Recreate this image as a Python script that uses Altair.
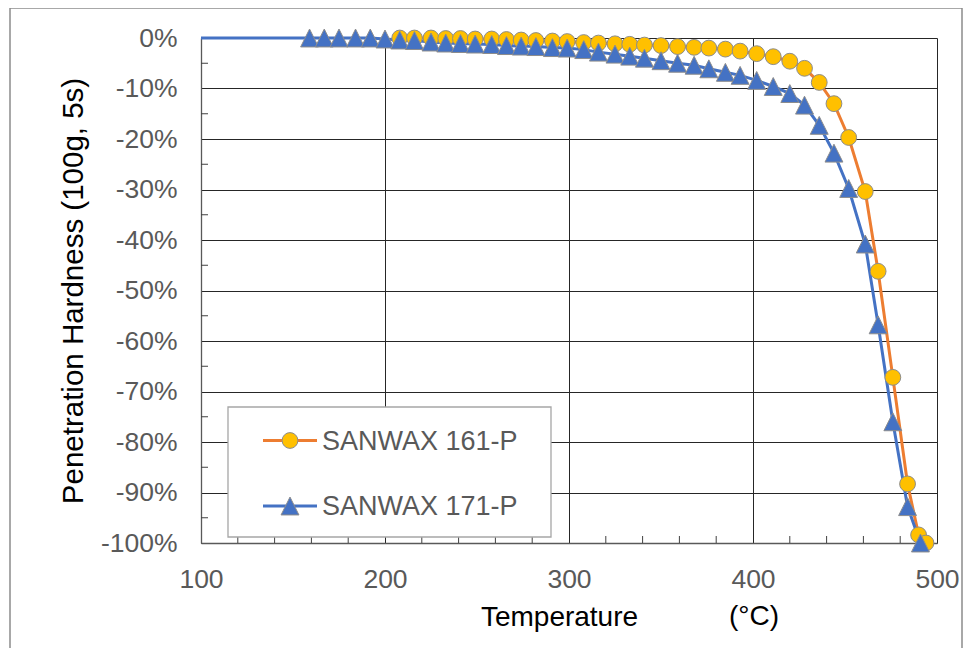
import altair as alt
import pandas as pd

# ---- data ----
series_names = ["SANWAX 161-P", "SANWAX 171-P"]

temps_161 = [208, 216, 225, 233, 241, 249, 258, 266, 274, 282, 291, 299, 308, 316,
             325, 333, 341, 350, 359, 368, 376, 385, 393, 402, 411, 420, 428, 436,
             444, 452, 461, 468, 476, 484, 490, 494]
hard_161 = [0, 0, 0, -0.1, -0.1, -0.2, -0.2, -0.3, -0.4, -0.5, -0.6, -0.7, -0.9, -1.0,
            -1.15, -1.25, -1.4, -1.5, -1.7, -1.85, -2.0, -2.2, -2.6, -3.1, -3.7, -4.6,
            -6.0, -8.8, -13.0, -19.7, -30.4, -46.2, -67.2, -88.3, -98.4, -100.0]

temps_171 = [100, 159, 167, 175, 184, 192, 200, 208, 216, 225, 233, 241, 249, 258,
             266, 274, 282, 291, 299, 308, 316, 325, 333, 341, 350, 359, 368, 376,
             385, 393, 402, 411, 420, 428, 436, 444, 452, 461, 468, 476, 484, 491]
hard_171 = [0, 0, 0, 0, 0, 0, -0.2, -0.4, -0.5, -0.8, -1.0, -1.1, -1.2, -1.3,
            -1.5, -1.6, -1.7, -1.9, -2.0, -2.3, -2.8, -3.2, -3.6, -4.0, -4.5, -5.0,
            -5.4, -6.1, -6.8, -7.4, -8.4, -9.6, -11.0, -13.3, -17.3, -22.8, -29.8,
            -40.8, -56.8, -76.0, -92.8, -100.0]

x_ticks = [100, 200, 300, 400, 500]
y_ticks = [-100, -90, -80, -70, -60, -50, -40, -30, -20, -10, 0]
x_minor = [120, 140, 160, 180, 220, 240, 260, 280, 320, 340, 360, 380, 420, 440, 460, 480]
y_minor = [-95, -85, -75, -65, -55, -45, -35, -25, -15, -5]

# ---- styling ----
FONT = "Liberation Sans"
ORANGE = "#ED7D31"
YELLOW = "#FFC000"
BLUE = "#4472C4"
MARKER_STROKE = "#8C8C8C"
W, H = 736, 505

df161 = pd.DataFrame({"T": temps_161, "H": hard_161})
df171 = pd.DataFrame({"T": temps_171, "H": hard_171})
dummy = pd.DataFrame({"d": [0]})

x_enc = alt.X(
    "T:Q",
    scale=alt.Scale(domain=[100, 500], nice=False, zero=False),
    axis=alt.Axis(
        values=x_ticks, grid=True, ticks=False, labelFlush=False, labelOverlap=False,
        labelPadding=23, title="Temperature", titleX=358, titleY=74,
        titleAlign="center", titleBaseline="middle", titleFontSize=28,
    ),
)
y_enc = alt.Y(
    "H:Q",
    scale=alt.Scale(domain=[-100, 0], nice=False, zero=False),
    axis=alt.Axis(
        values=y_ticks, grid=True, ticks=False, labelOverlap=False,
        labelExpr="datum.value + '%'", labelPadding=24,
        title="Penetration Hardness (100g, 5s)", titleX=-128, titleY=H / 2,
        titleAngle=270, titleAlign="center", titleBaseline="middle", titleFontSize=29.5,
    ),
)

line161 = alt.Chart(df161).mark_line(color=ORANGE, strokeWidth=3).encode(x=x_enc, y=y_enc)
line171 = alt.Chart(df171).mark_line(color=BLUE, strokeWidth=3).encode(x=x_enc, y=y_enc)

pts161 = alt.Chart(df161).mark_point(
    shape="circle", filled=True, fill=YELLOW, stroke=MARKER_STROKE, strokeWidth=1,
    size=250, opacity=1,
).encode(x=x_enc, y=y_enc)

TRI = "M0,-1L1,1L-1,1Z"
pts171 = alt.Chart(df171).transform_filter("datum.T > 100").mark_point(
    shape=TRI, filled=True, fill=BLUE, stroke=MARKER_STROKE, strokeWidth=1,
    size=320, opacity=1,
).encode(x=x_enc, y=y_enc)

minor_x_rules = alt.Chart(pd.DataFrame({"T": x_minor})).mark_rule(
    color="#404040", strokeWidth=1
).encode(x=x_enc, y=alt.value(H - 7), y2=alt.value(H))
minor_y_rules = alt.Chart(pd.DataFrame({"H": y_minor})).mark_rule(
    color="#404040", strokeWidth=1
).encode(y=y_enc, x=alt.value(0), x2=alt.value(7))

# legend (drawn by hand: line + marker + label)
leg_box = alt.Chart(dummy).mark_rect(
    fill="white", stroke="#A6A6A6", strokeWidth=1.3
).encode(x=alt.value(27), x2=alt.value(350), y=alt.value(369), y2=alt.value(499))

legend_layers = []
for name, ly, col, shape, fill, size in [
    (series_names[0], 402.5, ORANGE, "circle", YELLOW, 250),
    (series_names[1], 468, BLUE, TRI, BLUE, 320),
]:
    legend_layers.append(
        alt.Chart(dummy).mark_rule(color=col, strokeWidth=3).encode(
            x=alt.value(62), x2=alt.value(116), y=alt.value(ly))
    )
    legend_layers.append(
        alt.Chart(dummy).mark_point(
            shape=shape, filled=True, fill=fill, stroke=MARKER_STROKE, strokeWidth=1,
            size=size, opacity=1,
        ).encode(x=alt.value(89), y=alt.value(ly))
    )
    legend_layers.append(
        alt.Chart(dummy).mark_text(
            align="left", baseline="middle", font=FONT, fontSize=27, color="#595959"
        ).encode(x=alt.value(121), y=alt.value(ly + 1), text=alt.value(name))
    )

unit_text = alt.Chart(dummy).mark_text(
    align="center", baseline="middle", font=FONT, fontSize=28, color="black"
).encode(x=alt.value(553), y=alt.value(579), text=alt.value("(°C)"))

frame = alt.Chart(dummy).mark_rect(
    fill="white", fillOpacity=0, stroke="#8C8C8C", strokeWidth=1.5
).encode(x=alt.value(-191), x2=alt.value(761), y=alt.value(-30), y2=alt.value(700))

chart = alt.layer(
    line161, minor_x_rules, minor_y_rules, leg_box, *legend_layers,
    line171, pts161, pts171, unit_text, frame,
).properties(
    width=W, height=H,
    padding={"left": 193, "top": 30, "right": 26, "bottom": 105},
    autosize=alt.AutoSizeParams(type="none"),
    background="white",
).configure_view(
    stroke="transparent"
).configure_axis(
    gridColor="#262626", gridWidth=1, gridOpacity=1,
    domainColor="#595959", domainWidth=1.3,
    labelFont=FONT, labelFontSize=26.5, labelColor="#595959",
    titleFont=FONT, titleFontSize=28, titleColor="black", titleFontWeight="normal",
)

chart.save("out.html", embed_options={"renderer": "svg", "actions": False})
